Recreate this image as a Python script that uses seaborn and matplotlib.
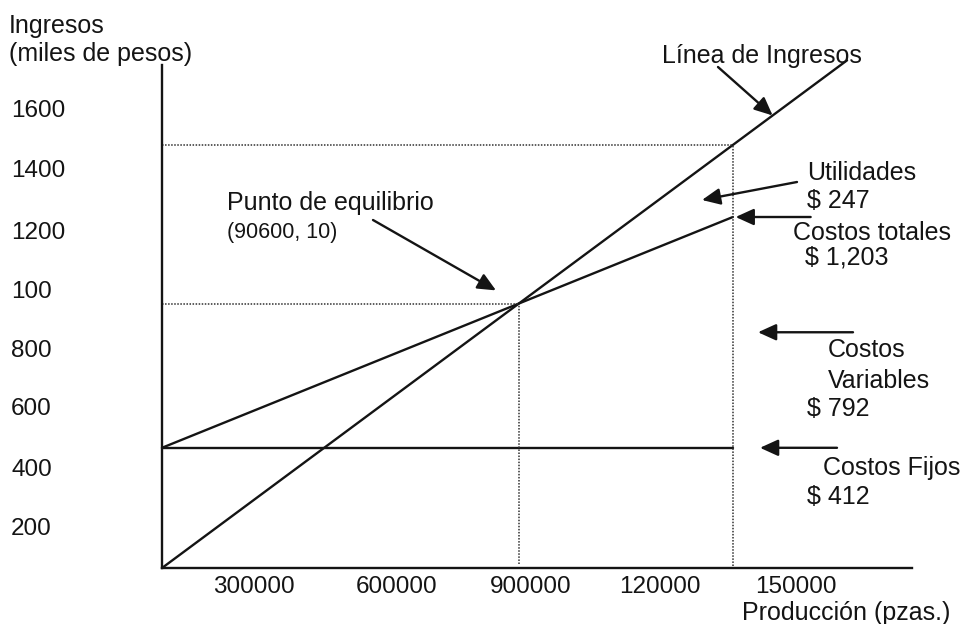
import matplotlib
matplotlib.use("Agg")
import matplotlib.pyplot as plt
import matplotlib.transforms as mtransforms
import pandas as pd
import seaborn as sns

# Análisis de punto de equilibrio (miles de pesos contra piezas producidas)
produccion_final = 1450000      # piezas al cierre del periodo
produccion_linea = 1740000      # hasta donde se prolonga la línea de ingresos
costos_fijos = 412
costos_variables = 792
costos_totales = 1203
utilidades = 247
ingresos_finales = costos_totales + utilidades

y_tick_labels = ["1600", "1400", "1200", "100", "800", "600", "400", "200"]
x_tick_labels = ["300000", "600000", "900000", "120000", "150000"]

# Posición de las etiquetas de los ejes (en unidades de los ejes)
y_tick_pos = [1576, 1369, 1158, 956, 751, 552, 346, 141]
x_tick_pos = [233600, 595500, 937000, 1264600, 1610000]
x_max, y_max = 1905000, 1724

# Rectas de ingresos y costos
precio = ingresos_finales / produccion_final
costo_unitario = (costos_totales - costos_fijos) / produccion_final
q_equilibrio = costos_fijos / (precio - costo_unitario)
y_equilibrio = precio * q_equilibrio

lineas = pd.DataFrame({
    "produccion": [0, produccion_linea, 0, produccion_final, 0, produccion_final],
    "miles": [0, precio * produccion_linea, costos_fijos, costos_totales,
              costos_fijos, costos_fijos],
    "serie": ["Ingresos", "Ingresos", "Costos totales", "Costos totales",
              "Costos fijos", "Costos fijos"],
})

sns.set_theme(style="white")
plt.rcParams["font.family"] = ["Liberation Sans", "DejaVu Sans"]

W, H, DPI = 966, 624, 100
INK = "#141414"
fig = plt.figure(figsize=(W / DPI, H / DPI), dpi=DPI)
ax = fig.add_axes([162 / W, 1 - 568 / H, 750 / W, 503 / H])


def fig_xy(x, y):
    """Pixel position (from the top-left corner) to figure fraction."""
    return (x / W, 1 - y / H)


sns.lineplot(data=lineas, x="produccion", y="miles", hue="serie",
             palette={"Ingresos": INK, "Costos totales": INK, "Costos fijos": INK},
             estimator=None, sort=False, legend=False, linewidth=1.7, ax=ax)
for ln in ax.lines:
    ln.set_clip_on(False)

# Líneas punteadas de referencia
punteado = dict(color="#303030", linewidth=1.1, linestyle=(0, (1, 1)), clip_on=False)
ax.plot([0, produccion_final], [ingresos_finales, ingresos_finales], **punteado)
ax.plot([produccion_final, produccion_final], [6, ingresos_finales], **punteado)
ax.plot([0, q_equilibrio], [y_equilibrio, y_equilibrio], **punteado)
ax.plot([q_equilibrio, q_equilibrio], [14, y_equilibrio], **punteado)

ax.set_xlim(0, x_max)
ax.set_ylim(0, y_max)
ax.set_xlabel("")
ax.set_ylabel("")
ax.set_xticks(x_tick_pos, x_tick_labels)
ax.set_yticks(y_tick_pos, y_tick_labels)
ax.tick_params(axis="both", length=0, labelsize=17.5, labelcolor=INK)
ax.tick_params(axis="x", pad=6)
ax.tick_params(axis="y", pad=108.7)
for lab in ax.get_yticklabels():
    lab.set_horizontalalignment("left")
for side in ("top", "right"):
    ax.spines[side].set_visible(False)
for side in ("left", "bottom"):
    ax.spines[side].set_color(INK)
    ax.spines[side].set_linewidth(1.7)

# Textos
fs = 18
fig.text(*fig_xy(9, 33), "Ingresos", fontsize=fs, color=INK, va="baseline")
fig.text(*fig_xy(9, 61), "(miles de pesos)", fontsize=fs, color=INK, va="baseline")
fig.text(*fig_xy(742, 620), "Producción (pzas.)", fontsize=fs, color=INK, va="baseline")
fig.text(*fig_xy(662, 63), "Línea de Ingresos", fontsize=fs, color=INK, va="baseline")
fig.text(*fig_xy(807, 180), "Utilidades", fontsize=fs, color=INK, va="baseline")
fig.text(*fig_xy(807, 208), f"$ {utilidades}", fontsize=fs, color=INK, va="baseline")
fig.text(*fig_xy(793, 240), "Costos totales", fontsize=fs, color=INK, va="baseline")
fig.text(*fig_xy(805, 264), f"$ {costos_totales:,}", fontsize=fs, color=INK, va="baseline")
fig.text(*fig_xy(227, 210), "Punto de equilibrio", fontsize=fs, color=INK, va="baseline")
fig.text(*fig_xy(227, 238), "(90600, 10)", fontsize=15.5, color=INK, va="baseline")
fig.text(*fig_xy(828, 357), "Costos", fontsize=fs, color=INK, va="baseline")
fig.text(*fig_xy(828, 388), "Variables", fontsize=fs, color=INK, va="baseline")
fig.text(*fig_xy(807, 416), f"$ {costos_variables}", fontsize=fs, color=INK, va="baseline")
fig.text(*fig_xy(823, 475), "Costos Fijos", fontsize=fs, color=INK, va="baseline")
fig.text(*fig_xy(807, 504), f"$ {costos_fijos}", fontsize=fs, color=INK, va="baseline")

# Flechas
flecha = dict(arrowstyle="-|>,head_length=0.55,head_width=0.25", mutation_scale=20,
              lw=1.7, color=INK, shrinkA=0, shrinkB=0)
q_marca = 1551000
ax.annotate("", xy=(q_marca, precio * q_marca), xycoords="data",
            xytext=fig_xy(718, 67), textcoords="figure fraction", arrowprops=flecha)
ax.annotate("", xy=fig_xy(702, 200), xycoords="figure fraction",
            xytext=fig_xy(797, 182), textcoords="figure fraction", arrowprops=flecha)
ax.annotate("", xy=(produccion_final, costos_totales), xycoords="data",
            xytext=(56, 0), textcoords="offset points",
            arrowprops={**flecha, "shrinkB": 2})
ax.annotate("", xy=(q_equilibrio, y_equilibrio), xycoords="data",
            xytext=fig_xy(373, 220), textcoords="figure fraction",
            arrowprops={**flecha, "shrinkB": 19})
mezcla = mtransforms.blended_transform_factory(fig.transFigure, ax.transData)
ax.annotate("", xy=(758 / W, costos_fijos + costos_variables / 2), xycoords=mezcla,
            xytext=(853 / W, costos_fijos + costos_variables / 2), textcoords=mezcla,
            arrowprops=flecha)
ax.annotate("", xy=(760 / W, costos_fijos), xycoords=mezcla,
            xytext=(837 / W, costos_fijos), textcoords=mezcla, arrowprops=flecha)

fig.savefig("out.png", dpi=DPI, facecolor="white")
